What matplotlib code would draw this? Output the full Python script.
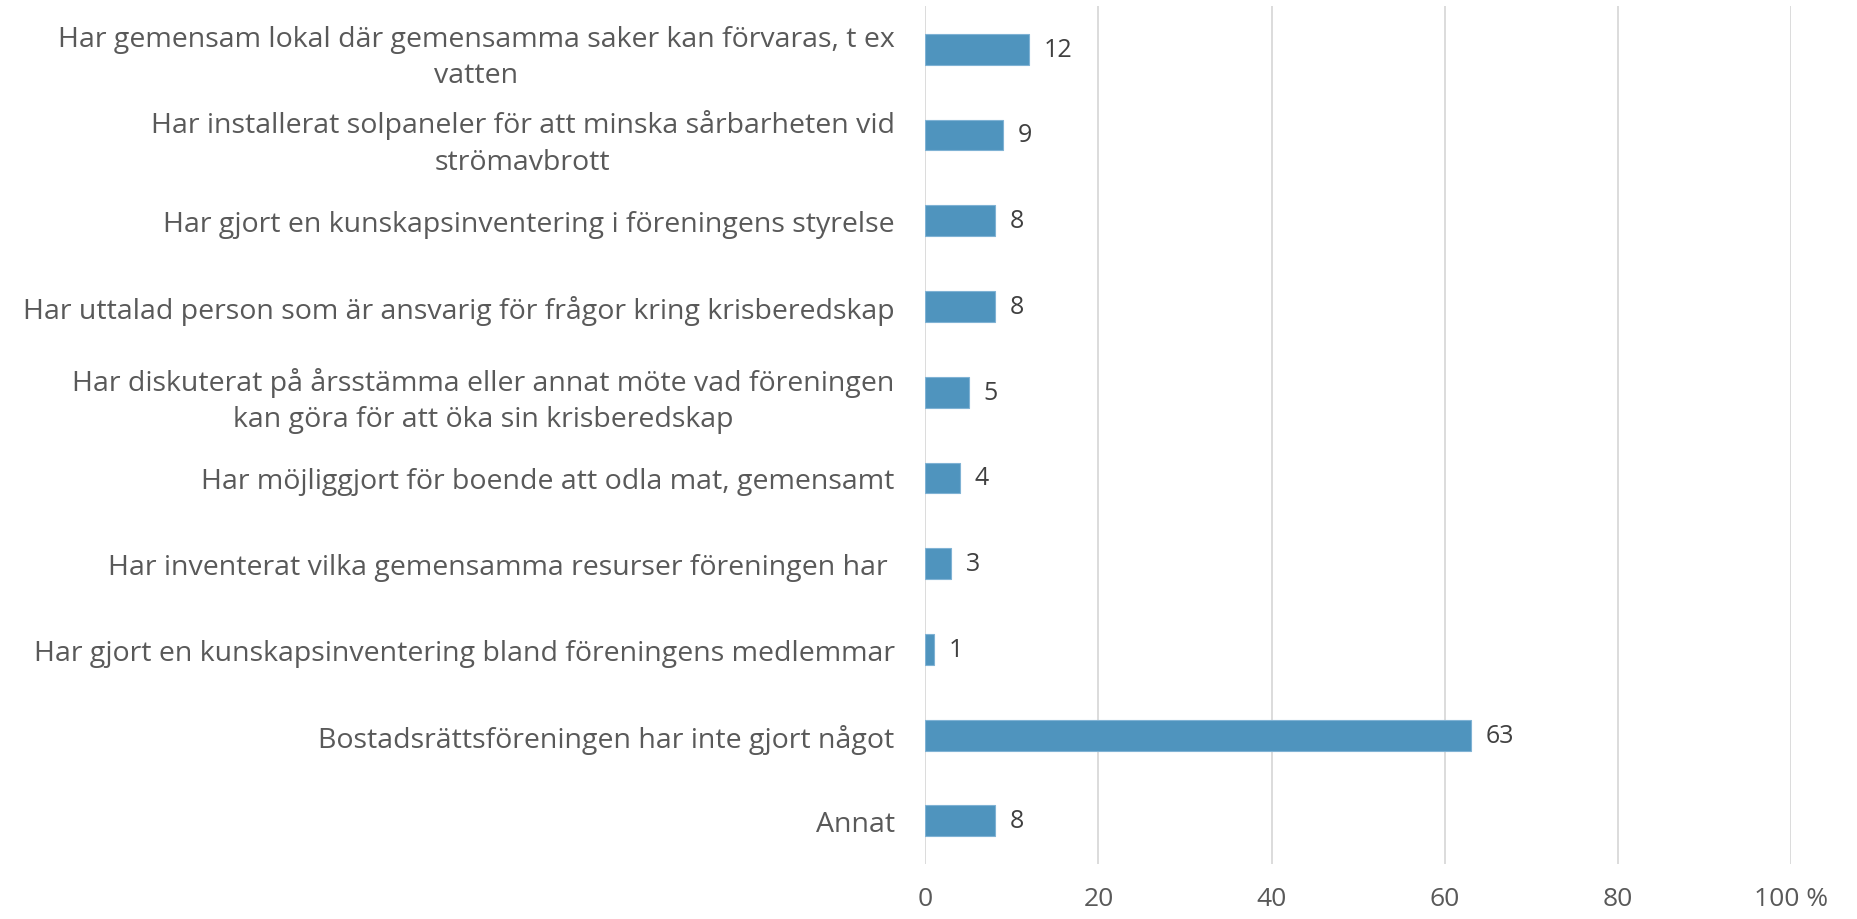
import matplotlib
matplotlib.use("Agg")
import matplotlib.pyplot as plt

# kategorier och värden (procent)
kategorier = [
    "Har gemensam lokal där gemensamma saker kan förvaras, t ex\nvatten",
    "Har installerat solpaneler för att minska sårbarheten vid\nströmavbrott",
    "Har gjort en kunskapsinventering i föreningens styrelse",
    "Har uttalad person som är ansvarig för frågor kring krisberedskap",
    "Har diskuterat på årsstämma eller annat möte vad föreningen\nkan göra för att öka sin krisberedskap",
    "Har möjliggjort för boende att odla mat, gemensamt",
    "Har inventerat vilka gemensamma resurser föreningen har ",
    "Har gjort en kunskapsinventering bland föreningens medlemmar",
    "Bostadsrättsföreningen har inte gjort något",
    "Annat",
]
varden = [12, 9, 8, 8, 5, 4, 3, 1, 63, 8]
xticks = [0, 20, 40, 60, 80, 100]
xtick_labels = ["0", "20", "40", "60", "80", "100 %"]

plt.rcParams["font.family"] = ["Open Sans", "DejaVu Sans"]
textfarg = "#595959"

fig = plt.figure(figsize=(18.58, 9.2), dpi=100)
ax = fig.add_axes([0.498, 0.06, 0.466, 0.932])

y = list(range(len(kategorier)))
ax.barh(y, varden, height=0.36, color="#4F94BE", edgecolor="#7fb2d4", linewidth=0.8, zorder=3)

for yi, v in zip(y, varden):
    ax.text(v + 1.7, yi, str(v), va="center", ha="left", fontsize=18, color="#404040")

ax.set_yticks(y)
ax.set_yticklabels(kategorier, fontsize=20.5, color=textfarg, multialignment="center",
                   linespacing=1.4)
ax.set_ylim(len(kategorier) - 0.5, -0.5)

ax.set_xlim(0, 100)
ax.set_xticks(xticks)
ax.set_xticklabels(xtick_labels, fontsize=19, color=textfarg)
ax.grid(axis="x", color="#d9d9d9", linewidth=1.3, zorder=0)
ax.tick_params(axis="y", length=0, pad=22)
ax.tick_params(axis="x", length=0, pad=16)
for s in ax.spines.values():
    s.set_visible(False)

fig.savefig("out.png", dpi=100)
